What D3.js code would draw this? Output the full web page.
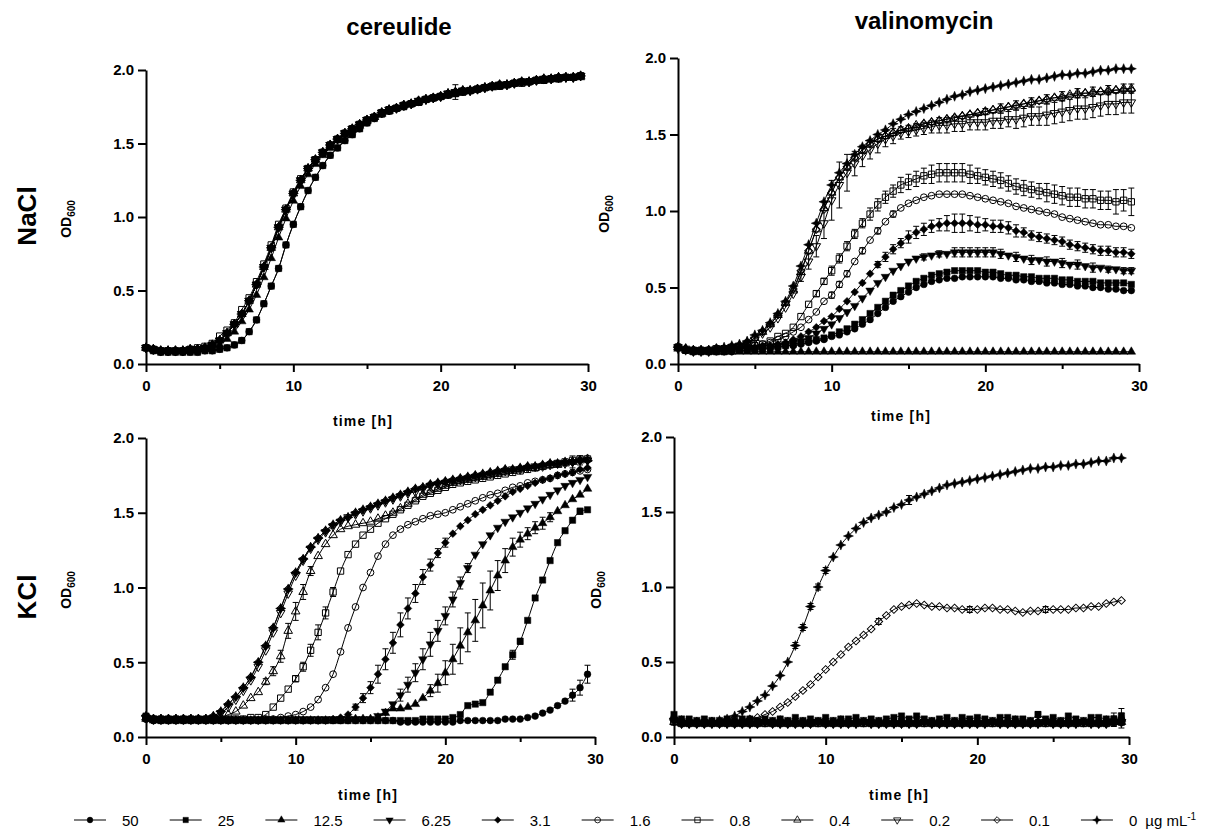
<!DOCTYPE html>
<html>
<head>
<meta charset="utf-8">
<script src="https://cdnjs.cloudflare.com/ajax/libs/d3/7.8.5/d3.min.js"></script>
<style>
  html, body { margin: 0; padding: 0; background: #fff; }
  svg { display: block; }
</style>
</head>
<body>
<svg id="chart" width="1214" height="830"></svg>
<script>
'use strict';

// sampling times in hours (one reading every 30 min)
var times = [0,0.5,1,1.5,2,2.5,3,3.5,4,4.5,
  5,5.5,6,6.5,7,7.5,8,8.5,9,9.5,
  10,10.5,11,11.5,12,12.5,13,13.5,14,14.5,
  15,15.5,16,16.5,17,17.5,18,18.5,19,19.5,
  20,20.5,21,21.5,22,22.5,23,23.5,24,24.5,
  25,25.5,26,26.5,27,27.5,28,28.5,29,29.5];

var concentrations = ['50', '25', '12.5', '6.25', '3.1', '1.6', '0.8', '0.4', '0.2', '0.1', '0'];
var markerShapes = ['circle', 'square', 'triangle', 'triangleDown', 'diamond',
  'circle', 'square', 'triangle', 'triangleDown', 'diamond', 'star'];
var markerOpen = [false, false, false, false, false, true, true, true, true, true, false];

var xTicks = [0, 10, 20, 30];
var xTickLabels = ['0', '10', '20', '30'];
var xMinorTicks = [5, 15, 25];
var yTicks = [0, 0.5, 1, 1.5, 2];
var yTickLabels = ['0.0', '0.5', '1.0', '1.5', '2.0'];

// ---- NaCl + cereulide ----
var naclCerFast = [0.11,0.10,0.09,0.09,0.09,0.09,0.10,0.10,0.11,0.13,
  0.16,0.21,0.27,0.34,0.43,0.54,0.66,0.79,0.93,1.05,
  1.16,1.25,1.33,1.39,1.44,1.49,1.53,1.57,1.60,1.63,
  1.66,1.68,1.71,1.73,1.74,1.76,1.77,1.79,1.80,1.81,
  1.82,1.84,1.85,1.86,1.86,1.87,1.88,1.89,1.90,1.90,
  1.91,1.92,1.92,1.93,1.94,1.94,1.95,1.95,1.95,1.96];
var naclCer08 = [0.11,0.10,0.09,0.09,0.09,0.09,0.10,0.11,0.12,0.14,
  0.19,0.23,0.28,0.37,0.45,0.56,0.68,0.81,0.95,1.06,
  1.17,1.26,1.33,1.39,1.44,1.49,1.53,1.57,1.60,1.63,
  1.66,1.68,1.71,1.73,1.74,1.76,1.77,1.78,1.80,1.81,
  1.82,1.83,1.84,1.85,1.86,1.87,1.88,1.89,1.89,1.90,
  1.91,1.91,1.92,1.93,1.93,1.94,1.94,1.95,1.95,1.96];
var naclCer125 = [0.11,0.10,0.09,0.09,0.09,0.09,0.09,0.10,0.10,0.11,
  0.13,0.17,0.22,0.29,0.37,0.47,0.59,0.72,0.86,0.99,
  1.11,1.21,1.29,1.36,1.42,1.47,1.52,1.56,1.59,1.62,
  1.65,1.68,1.70,1.72,1.74,1.76,1.77,1.78,1.80,1.81,
  1.82,1.83,1.84,1.85,1.86,1.87,1.88,1.88,1.89,1.90,
  1.91,1.91,1.92,1.93,1.93,1.94,1.94,1.95,1.95,1.95];
var naclCer25 = [0.11,0.09,0.08,0.08,0.08,0.08,0.08,0.08,0.09,0.09,
  0.10,0.11,0.13,0.16,0.22,0.30,0.41,0.53,0.65,0.81,
  0.95,1.07,1.18,1.27,1.35,1.42,1.47,1.52,1.56,1.60,
  1.64,1.67,1.70,1.72,1.74,1.75,1.77,1.78,1.80,1.81,
  1.82,1.83,1.84,1.85,1.86,1.87,1.88,1.89,1.89,1.90,
  1.91,1.92,1.92,1.93,1.93,1.94,1.94,1.95,1.95,1.96];
var naclCerErr02 = [[21, 0.05]];

// ---- NaCl + valinomycin ----
var naclVal0 = [0.11,0.10,0.09,0.09,0.09,0.10,0.11,0.12,0.13,0.15,
  0.19,0.22,0.27,0.33,0.41,0.51,0.64,0.78,0.92,1.06,
  1.17,1.25,1.31,1.37,1.42,1.46,1.50,1.53,1.57,1.60,
  1.63,1.65,1.67,1.69,1.71,1.73,1.75,1.76,1.78,1.79,
  1.80,1.81,1.82,1.83,1.84,1.85,1.86,1.86,1.87,1.88,
  1.89,1.89,1.90,1.90,1.91,1.92,1.92,1.93,1.93,1.93];
var naclVal01 = [0.11,0.10,0.09,0.09,0.09,0.10,0.10,0.11,0.12,0.14,
  0.17,0.21,0.26,0.32,0.40,0.49,0.61,0.74,0.88,1.01,
  1.12,1.22,1.29,1.35,1.40,1.44,1.47,1.49,1.51,1.53,
  1.54,1.55,1.57,1.58,1.59,1.60,1.61,1.62,1.63,1.64,
  1.65,1.66,1.67,1.68,1.69,1.70,1.71,1.72,1.73,1.74,
  1.74,1.75,1.76,1.77,1.77,1.78,1.78,1.79,1.79,1.79];
var naclVal04 = [0.11,0.10,0.09,0.09,0.09,0.10,0.10,0.11,0.12,0.14,
  0.17,0.21,0.26,0.32,0.40,0.48,0.60,0.74,0.88,1.02,
  1.12,1.22,1.29,1.35,1.40,1.44,1.47,1.49,1.51,1.53,
  1.54,1.56,1.57,1.58,1.59,1.60,1.61,1.62,1.63,1.64,
  1.65,1.66,1.67,1.68,1.69,1.70,1.71,1.72,1.73,1.74,
  1.75,1.76,1.77,1.77,1.78,1.78,1.79,1.79,1.80,1.80];
var naclVal02 = [0.11,0.10,0.09,0.09,0.09,0.10,0.10,0.11,0.12,0.13,
  0.16,0.20,0.24,0.30,0.37,0.46,0.57,0.67,0.77,0.92,
  1.07,1.17,1.25,1.31,1.36,1.40,1.44,1.47,1.49,1.51,
  1.52,1.53,1.54,1.55,1.56,1.56,1.57,1.57,1.58,1.58,
  1.58,1.59,1.59,1.60,1.60,1.61,1.62,1.62,1.63,1.64,
  1.65,1.66,1.67,1.67,1.68,1.69,1.70,1.70,1.71,1.71];
var naclVal08 = [0.11,0.09,0.09,0.09,0.09,0.10,0.10,0.11,0.11,0.12,
  0.12,0.13,0.15,0.18,0.20,0.24,0.31,0.39,0.46,0.54,
  0.61,0.69,0.77,0.85,0.92,0.98,1.04,1.09,1.13,1.17,
  1.19,1.21,1.23,1.24,1.25,1.25,1.25,1.25,1.24,1.23,
  1.22,1.21,1.20,1.18,1.16,1.15,1.14,1.13,1.12,1.11,
  1.10,1.09,1.09,1.08,1.08,1.07,1.07,1.06,1.07,1.06];
var naclVal16 = [0.11,0.09,0.09,0.09,0.09,0.09,0.10,0.10,0.11,0.11,
  0.12,0.13,0.14,0.16,0.18,0.21,0.24,0.29,0.34,0.41,
  0.45,0.52,0.59,0.67,0.74,0.81,0.87,0.93,0.98,1.02,
  1.05,1.07,1.09,1.10,1.11,1.11,1.11,1.11,1.10,1.09,
  1.08,1.07,1.06,1.05,1.03,1.02,1.01,1.00,0.99,0.98,
  0.96,0.95,0.94,0.93,0.92,0.91,0.91,0.90,0.90,0.89];
var naclVal31 = [0.11,0.09,0.09,0.09,0.09,0.09,0.09,0.10,0.10,0.11,
  0.11,0.12,0.12,0.13,0.14,0.16,0.18,0.21,0.24,0.28,
  0.31,0.36,0.41,0.47,0.53,0.59,0.65,0.70,0.75,0.79,
  0.83,0.86,0.88,0.90,0.91,0.92,0.92,0.92,0.92,0.91,
  0.91,0.90,0.90,0.89,0.87,0.86,0.84,0.83,0.82,0.81,
  0.80,0.78,0.77,0.76,0.75,0.74,0.74,0.73,0.73,0.72];
var naclVal625 = [0.10,0.09,0.08,0.08,0.08,0.09,0.09,0.09,0.10,0.10,
  0.10,0.11,0.11,0.12,0.13,0.14,0.15,0.17,0.20,0.23,
  0.26,0.30,0.34,0.38,0.43,0.48,0.53,0.57,0.61,0.64,
  0.67,0.69,0.70,0.71,0.72,0.72,0.73,0.73,0.73,0.73,
  0.73,0.73,0.72,0.71,0.70,0.69,0.68,0.68,0.67,0.67,
  0.66,0.65,0.65,0.64,0.63,0.63,0.62,0.62,0.61,0.61];
var naclVal125 = [0.10,0.09,0.08,0.08,0.08,0.08,0.08,0.08,0.08,0.08,
  0.08,0.08,0.08,0.08,0.08,0.08,0.08,0.08,0.08,0.08,
  0.08,0.08,0.08,0.08,0.08,0.08,0.08,0.08,0.08,0.08,
  0.08,0.08,0.08,0.08,0.08,0.08,0.08,0.08,0.08,0.08,
  0.08,0.08,0.08,0.08,0.08,0.08,0.08,0.08,0.08,0.08,
  0.08,0.08,0.08,0.08,0.08,0.08,0.08,0.08,0.08,0.08];
var naclVal25 = [0.11,0.09,0.08,0.08,0.08,0.08,0.08,0.09,0.09,0.09,
  0.10,0.10,0.11,0.11,0.12,0.13,0.14,0.15,0.16,0.17,
  0.19,0.21,0.23,0.26,0.29,0.33,0.37,0.41,0.45,0.48,
  0.51,0.54,0.56,0.58,0.59,0.60,0.61,0.61,0.61,0.61,
  0.60,0.60,0.59,0.58,0.58,0.57,0.57,0.56,0.56,0.56,
  0.55,0.55,0.54,0.54,0.54,0.53,0.53,0.53,0.53,0.52];
var naclVal50 = [0.11,0.09,0.08,0.08,0.08,0.08,0.08,0.08,0.09,0.09,
  0.09,0.10,0.10,0.11,0.12,0.12,0.13,0.14,0.15,0.16,
  0.18,0.19,0.21,0.23,0.26,0.29,0.33,0.37,0.41,0.44,
  0.47,0.50,0.52,0.54,0.55,0.56,0.56,0.57,0.57,0.57,
  0.57,0.57,0.56,0.56,0.55,0.55,0.54,0.54,0.53,0.53,
  0.52,0.52,0.51,0.51,0.50,0.50,0.49,0.49,0.48,0.48];
// error bars: [time, SD]
var naclValErr08 = [[9,0.02],[9.5,0.02],[10,0.03],[10.5,0.03],[11,0.03],[11.5,0.03],[12,0.03],[12.5,0.04],
  [13,0.04],[13.5,0.04],[14,0.04],[14.5,0.05],[15,0.05],[15.5,0.05],[16,0.05],[16.5,0.06],[17,0.06],
  [17.5,0.06],[18,0.06],[18.5,0.06],[19,0.06],[19.5,0.05],[20,0.05],[20.5,0.05],[21,0.05],[21.5,0.05],
  [22,0.05],[22.5,0.05],[23,0.05],[23.5,0.05],[24,0.06],[24.5,0.06],[25,0.06],[25.5,0.06],[26,0.06],
  [26.5,0.06],[27,0.06],[27.5,0.06],[28,0.06],[28.5,0.08],[29,0.07],[29.5,0.09]];
var naclValErr02 = [[8,0.03],[8.5,0.05],[9,0.07],[9.5,0.10],[10,0.13],[10.5,0.15],[11,0.12],[11.5,0.08],
  [12,0.07],[12.5,0.06],[13,0.06],[13.5,0.05],[14,0.05],[14.5,0.04],[15,0.04],[15.5,0.04],[16,0.04],
  [16.5,0.04],[17,0.05],[17.5,0.05],[18,0.05],[18.5,0.05],[19,0.05],[19.5,0.05],[20,0.05],[20.5,0.05],
  [21,0.05],[21.5,0.05],[22,0.06],[22.5,0.06],[23,0.06],[23.5,0.06],[24,0.07],[24.5,0.07],[25,0.07],
  [25.5,0.07],[26,0.07],[26.5,0.07],[27,0.07],[27.5,0.07],[28,0.07],[28.5,0.07],[29,0.07],[29.5,0.07]];
var naclValErr31 = [[13,0.02],[13.5,0.03],[14,0.03],[14.5,0.03],[15,0.04],[15.5,0.04],[16,0.04],[16.5,0.04],
  [17,0.04],[17.5,0.05],[18,0.06],[18.5,0.06],[19,0.05],[19.5,0.05],[20,0.04],[20.5,0.04],[21,0.04],
  [21.5,0.04],[22,0.04],[22.5,0.03],[23,0.03],[23.5,0.03],[24,0.03],[24.5,0.03],[25,0.03],[25.5,0.03],
  [26,0.03],[26.5,0.03],[27,0.03],[27.5,0.03],[28,0.03],[28.5,0.03],[29,0.03],[29.5,0.03]];
var naclValErr625 = [[16,0.02],[17,0.02],[18,0.03],[18.5,0.03],[19,0.03],[19.5,0.03],[20,0.03],[20.5,0.03],
  [21,0.03],[22,0.03],[23,0.03],[24,0.03],[25,0.03],[26,0.03],[27,0.03],[28,0.02],[29,0.02],[29.5,0.02]];
var naclValErr16 = [[10,0.02],[10.5,0.02],[11,0.02],[12,0.02],[13,0.02],[14,0.02]];
var naclValErr04 = [[20,0.02],[21,0.03],[22,0.03],[23,0.03],[24,0.03],[25,0.03],[26,0.03],[27,0.03],
  [28,0.03],[29,0.03],[29.5,0.03]];

// ---- KCl + cereulide ----
var kclCerFast = [0.14,0.12,0.12,0.12,0.12,0.12,0.12,0.12,0.12,0.14,
  0.17,0.22,0.27,0.33,0.40,0.50,0.61,0.73,0.86,0.99,
  1.10,1.19,1.27,1.33,1.38,1.42,1.45,1.47,1.50,1.52,
  1.54,1.56,1.58,1.60,1.62,1.64,1.66,1.67,1.69,1.70,
  1.71,1.72,1.73,1.74,1.75,1.76,1.77,1.78,1.79,1.79,
  1.80,1.81,1.81,1.82,1.83,1.83,1.84,1.84,1.85,1.85];
var kclCer02 = [0.13,0.12,0.12,0.12,0.12,0.12,0.12,0.12,0.12,0.13,
  0.16,0.20,0.25,0.31,0.38,0.47,0.58,0.70,0.83,0.96,
  1.08,1.18,1.26,1.32,1.37,1.41,1.44,1.47,1.49,1.51,
  1.53,1.55,1.57,1.59,1.61,1.63,1.64,1.66,1.68,1.69,
  1.70,1.71,1.72,1.73,1.74,1.75,1.76,1.77,1.78,1.79,
  1.79,1.80,1.81,1.81,1.82,1.83,1.83,1.84,1.85,1.85];
var kclCer04 = [0.13,0.12,0.12,0.12,0.12,0.12,0.12,0.12,0.12,0.12,
  0.13,0.15,0.17,0.21,0.26,0.30,0.37,0.44,0.54,0.71,
  0.84,0.97,1.11,1.21,1.29,1.35,1.39,1.41,1.42,1.43,
  1.44,1.46,1.48,1.50,1.53,1.56,1.59,1.62,1.64,1.66,
  1.68,1.70,1.71,1.72,1.73,1.74,1.75,1.76,1.77,1.78,
  1.79,1.80,1.80,1.81,1.82,1.82,1.83,1.84,1.85,1.86];
var kclCer08 = [0.13,0.12,0.12,0.12,0.12,0.12,0.12,0.12,0.12,0.12,
  0.12,0.12,0.12,0.12,0.13,0.13,0.15,0.20,0.26,0.32,
  0.39,0.47,0.58,0.70,0.83,0.97,1.11,1.22,1.29,1.35,
  1.39,1.43,1.46,1.49,1.52,1.55,1.58,1.61,1.63,1.65,
  1.67,1.69,1.70,1.71,1.72,1.73,1.74,1.75,1.76,1.77,
  1.78,1.79,1.80,1.81,1.82,1.83,1.84,1.85,1.86,1.86];
var kclCer16 = [0.12,0.11,0.11,0.11,0.11,0.11,0.11,0.11,0.11,0.11,
  0.11,0.11,0.11,0.11,0.11,0.11,0.12,0.12,0.13,0.14,
  0.15,0.17,0.20,0.25,0.33,0.42,0.57,0.73,0.87,1.00,
  1.10,1.21,1.29,1.35,1.39,1.42,1.44,1.46,1.48,1.49,
  1.50,1.52,1.54,1.56,1.58,1.60,1.62,1.63,1.65,1.67,
  1.68,1.70,1.71,1.72,1.73,1.75,1.76,1.77,1.78,1.79];
var kclCer31 = [0.12,0.11,0.11,0.11,0.11,0.11,0.11,0.11,0.11,0.11,
  0.11,0.11,0.11,0.11,0.11,0.11,0.11,0.11,0.11,0.11,
  0.11,0.11,0.11,0.11,0.11,0.12,0.13,0.15,0.20,0.26,
  0.33,0.42,0.52,0.63,0.75,0.86,0.96,1.07,1.15,1.23,
  1.30,1.36,1.41,1.45,1.49,1.52,1.55,1.58,1.61,1.64,
  1.66,1.68,1.70,1.72,1.73,1.75,1.76,1.77,1.79,1.80];
var kclCer625 = [0.13,0.12,0.12,0.12,0.12,0.12,0.12,0.12,0.12,0.12,
  0.12,0.12,0.12,0.12,0.12,0.12,0.12,0.12,0.12,0.12,
  0.12,0.12,0.12,0.12,0.12,0.12,0.12,0.12,0.12,0.12,
  0.12,0.14,0.17,0.22,0.28,0.35,0.43,0.52,0.62,0.71,
  0.81,0.92,1.03,1.13,1.22,1.29,1.35,1.40,1.44,1.47,
  1.50,1.53,1.56,1.59,1.62,1.65,1.68,1.70,1.72,1.74];
var kclCer125 = [0.12,0.11,0.11,0.11,0.11,0.11,0.11,0.11,0.11,0.11,
  0.11,0.11,0.11,0.11,0.11,0.11,0.11,0.11,0.11,0.11,
  0.11,0.11,0.11,0.11,0.11,0.11,0.11,0.12,0.12,0.12,
  0.12,0.13,0.16,0.19,0.19,0.20,0.22,0.26,0.31,0.36,
  0.43,0.52,0.61,0.70,0.78,0.88,0.98,1.08,1.18,1.27,
  1.32,1.36,1.40,1.43,1.47,1.51,1.55,1.59,1.62,1.66];
var kclCer25 = [0.14,0.12,0.11,0.11,0.11,0.11,0.11,0.11,0.11,0.11,
  0.11,0.11,0.11,0.11,0.11,0.11,0.11,0.11,0.11,0.11,
  0.11,0.11,0.11,0.11,0.11,0.11,0.11,0.11,0.11,0.11,
  0.11,0.11,0.11,0.11,0.11,0.11,0.11,0.12,0.12,0.12,
  0.12,0.13,0.15,0.21,0.22,0.23,0.30,0.38,0.47,0.55,
  0.64,0.78,0.93,1.05,1.18,1.30,1.38,1.45,1.51,1.52];
var kclCer50 = [0.12,0.11,0.11,0.11,0.11,0.11,0.11,0.11,0.11,0.11,
  0.11,0.11,0.11,0.11,0.11,0.11,0.11,0.11,0.11,0.11,
  0.11,0.11,0.11,0.11,0.11,0.11,0.11,0.11,0.11,0.11,
  0.11,0.11,0.11,0.11,0.10,0.10,0.10,0.10,0.10,0.10,
  0.10,0.10,0.11,0.11,0.11,0.11,0.11,0.11,0.12,0.12,
  0.12,0.13,0.14,0.16,0.18,0.21,0.24,0.28,0.33,0.42];
var kclCerErr04 = [[8,0.02],[8.5,0.03],[9,0.04],[9.5,0.05],[10,0.06],[10.5,0.05],[11,0.03]];
var kclCerErr08 = [[10,0.02],[10.5,0.03],[11,0.04],[11.5,0.05],[12,0.04],[12.5,0.03]];
var kclCerErr31 = [[14,0.02],[14.5,0.03],[15,0.04],[15.5,0.06],[16,0.07],[16.5,0.07],[17,0.08],
  [17.5,0.07],[18,0.06],[18.5,0.05],[19,0.04],[19.5,0.03],[20,0.03]];
var kclCerErr625 = [[17,0.04],[17.5,0.05],[18,0.06],[18.5,0.07],[19,0.08],[19.5,0.07],[20,0.06],
  [20.5,0.05],[21,0.04],[21.5,0.03]];
var kclCerErr125 = [[19,0.04],[19.5,0.06],[20,0.08],[20.5,0.10],[21,0.12],[21.5,0.13],[22,0.14],
  [22.5,0.15],[23,0.13],[23.5,0.10],[24,0.08],[24.5,0.06],[25,0.05],[25.5,0.04],[26,0.04],[26.5,0.04],[27,0.03]];
var kclCerErr25 = [[24.5,0.03],[25,0.02],[29,0.02]];
var kclCerErr50 = [[28.5,0.04],[29,0.05],[29.5,0.06]];
var kclCerErr02 = [[28.5,0.04],[29,0.03]];

// ---- KCl + valinomycin ----
var kclVal0 = [0.12,0.11,0.10,0.10,0.10,0.10,0.11,0.12,0.14,0.17,
  0.20,0.24,0.28,0.34,0.41,0.50,0.61,0.73,0.87,1.00,
  1.11,1.20,1.28,1.34,1.39,1.43,1.46,1.48,1.50,1.53,
  1.55,1.58,1.60,1.62,1.64,1.66,1.68,1.69,1.70,1.71,
  1.72,1.73,1.74,1.75,1.76,1.77,1.78,1.79,1.79,1.80,
  1.80,1.81,1.81,1.82,1.82,1.83,1.84,1.84,1.86,1.86];
var kclVal01 = [0.11,0.10,0.10,0.10,0.10,0.10,0.10,0.10,0.10,0.11,
  0.12,0.13,0.15,0.17,0.20,0.23,0.27,0.31,0.35,0.40,
  0.45,0.50,0.55,0.60,0.64,0.68,0.72,0.77,0.81,0.85,
  0.87,0.88,0.89,0.88,0.87,0.87,0.86,0.86,0.85,0.85,
  0.85,0.86,0.86,0.85,0.85,0.84,0.83,0.84,0.84,0.85,
  0.85,0.85,0.85,0.86,0.86,0.87,0.87,0.89,0.90,0.91];
var kclVal25 = [0.15,0.12,0.12,0.11,0.12,0.11,0.11,0.12,0.11,0.12,
  0.12,0.11,0.12,0.11,0.12,0.11,0.13,0.11,0.12,0.11,
  0.13,0.11,0.12,0.12,0.13,0.11,0.12,0.11,0.12,0.13,
  0.14,0.12,0.14,0.12,0.11,0.12,0.13,0.11,0.13,0.12,
  0.13,0.12,0.11,0.13,0.13,0.12,0.12,0.11,0.15,0.12,
  0.13,0.11,0.14,0.12,0.11,0.13,0.13,0.12,0.12,0.14];
var kclValFlatA = [0.13,0.10,0.10,0.10,0.10,0.10,0.10,0.10,0.10,0.10,
  0.10,0.10,0.10,0.10,0.11,0.10,0.10,0.10,0.10,0.10,
  0.10,0.10,0.11,0.10,0.10,0.10,0.10,0.10,0.10,0.10,
  0.11,0.10,0.10,0.10,0.10,0.10,0.10,0.10,0.11,0.10,
  0.10,0.10,0.10,0.10,0.10,0.11,0.10,0.10,0.10,0.10,
  0.10,0.10,0.11,0.10,0.10,0.10,0.10,0.11,0.11,0.12];
var kclValFlatB = [0.11,0.09,0.09,0.09,0.09,0.09,0.09,0.09,0.09,0.09,
  0.09,0.09,0.10,0.09,0.09,0.09,0.09,0.09,0.09,0.10,
  0.09,0.09,0.09,0.09,0.09,0.10,0.09,0.09,0.09,0.09,
  0.09,0.09,0.09,0.10,0.09,0.09,0.09,0.09,0.09,0.09,
  0.09,0.09,0.10,0.09,0.09,0.09,0.09,0.09,0.09,0.10,
  0.09,0.09,0.09,0.09,0.10,0.09,0.09,0.09,0.10,0.10];
var kclValFlatC = [0.10,0.09,0.09,0.09,0.09,0.09,0.09,0.09,0.09,0.09,
  0.09,0.09,0.09,0.09,0.09,0.09,0.09,0.09,0.09,0.09,
  0.09,0.09,0.09,0.09,0.09,0.09,0.09,0.09,0.09,0.09,
  0.09,0.09,0.09,0.09,0.09,0.09,0.09,0.09,0.09,0.09,
  0.09,0.09,0.09,0.09,0.09,0.09,0.09,0.09,0.09,0.09,
  0.09,0.09,0.09,0.09,0.09,0.09,0.09,0.09,0.10,0.10];
var kclValErr0 = [[8,0.02],[8.5,0.02],[9,0.02],[9.5,0.02],[10,0.02],[15.5,0.03]];
var kclValErr01 = [[13.5,0.02],[19.5,0.02],[24.5,0.02]];
var kclValErr25 = [[24,0.02],[29,0.04],[29.5,0.05]];
var kclValErrFlat = [[29,0.03],[29.5,0.04]];

// panels: one data array per concentration, same order as `concentrations`
var panels = [
  { key: 'tl', title: 'cereulide', salt: 'NaCl',
    series: [naclCer25, naclCer25, naclCer125, naclCerFast, naclCerFast, naclCerFast,
      naclCer08, naclCerFast, naclCerFast, naclCerFast, naclCerFast],
    errors: { '0.2': naclCerErr02 } },
  { key: 'tr', title: 'valinomycin',
    series: [naclVal50, naclVal25, naclVal125, naclVal625, naclVal31, naclVal16,
      naclVal08, naclVal04, naclVal02, naclVal01, naclVal0],
    errors: { '0.8': naclValErr08, '0.2': naclValErr02, '3.1': naclValErr31, '6.25': naclValErr625,
      '1.6': naclValErr16, '0.4': naclValErr04 } },
  { key: 'bl', salt: 'KCl',
    series: [kclCer50, kclCer25, kclCer125, kclCer625, kclCer31, kclCer16,
      kclCer08, kclCer04, kclCer02, kclCerFast, kclCerFast],
    errors: { '50': kclCerErr50, '25': kclCerErr25, '12.5': kclCerErr125, '6.25': kclCerErr625,
      '3.1': kclCerErr31, '0.8': kclCerErr08, '0.4': kclCerErr04, '0.2': kclCerErr02 } },
  { key: 'br',
    series: [kclValFlatA, kclVal25, kclValFlatA, kclValFlatB, kclValFlatB, kclValFlatC,
      kclValFlatC, kclValFlatC, kclValFlatB, kclVal01, kclVal0],
    errors: { '25': kclValErr25, '50': kclValErrFlat, '0.2': kclValErrFlat, '0.1': kclValErr01, '0': kclValErr0 } }
];

// plot boxes in px
var layout = {
  tl: { left: 146, right: 588, top: 70, bottom: 364, titleX: 399, titleY: 35, odX: 66, odY: 219, timeX: 363, timeY: 426, saltY: 216 },
  tr: { left: 678, right: 1139, top: 58, bottom: 364, titleX: 924, titleY: 29, odX: 604, odY: 214, timeX: 901, timeY: 421 },
  bl: { left: 146, right: 595, top: 438, bottom: 737, odX: 66, odY: 590, timeX: 368, timeY: 800, saltY: 597 },
  br: { left: 674, right: 1129, top: 437, bottom: 737, odX: 596, odY: 590, timeX: 899, timeY: 800 }
};

var font = '"Liberation Sans", Arial, Helvetica, sans-serif';
var svg = d3.select('#chart');

// four-pointed star used for the 0 µg/mL control
var star4 = {
  draw: function(ctx, size) {
    var r = Math.sqrt(size) * 0.8, ri = r * 0.42;
    for (var k = 0; k < 8; k++) {
      var a = k * Math.PI / 4 - Math.PI / 2;
      var rr = k % 2 ? ri : r;
      if (k === 0) ctx.moveTo(rr * Math.cos(a), rr * Math.sin(a));
      else ctx.lineTo(rr * Math.cos(a), rr * Math.sin(a));
    }
    ctx.closePath();
  }
};

var shapeDefs = {
  circle: { type: d3.symbolCircle, size: 36, rot: 0 },
  square: { type: d3.symbolSquare, size: 40, rot: 0 },
  triangle: { type: d3.symbolTriangle, size: 32, rot: 0 },
  triangleDown: { type: d3.symbolTriangle, size: 32, rot: 180 },
  diamond: { type: d3.symbolSquare, size: 30, rot: 45 },
  star: { type: star4, size: 40, rot: 0 }
};

function drawMarker(sel, i) {
  var def = shapeDefs[markerShapes[i]];
  sel.attr('d', d3.symbol().type(def.type).size(def.size)())
    .attr('fill', markerOpen[i] ? 'none' : '#000')
    .attr('stroke', '#000')
    .attr('stroke-width', markerOpen[i] ? 1 : 0.5);
  return def.rot;
}

function styleAxis(a) {
  a.selectAll('path, line').attr('stroke', '#000').attr('stroke-width', 2);
  a.selectAll('text').attr('font-family', font).attr('font-size', 15)
    .attr('font-weight', 'bold').attr('fill', '#000');
}

panels.forEach(function(p) {
  var box = layout[p.key];
  var x = d3.scaleLinear().domain([0, 30]).range([box.left, box.right]);
  var y = d3.scaleLinear().domain([0, 2]).range([box.bottom, box.top]);
  var g = svg.append('g');

  var xAxis = g.append('g').attr('transform', 'translate(0,' + box.bottom + ')')
    .call(d3.axisBottom(x).tickValues(xTicks)
      .tickFormat(function(d, i) { return xTickLabels[i]; })
      .tickSize(8).tickSizeOuter(0).tickPadding(8));
  var xMinor = g.append('g').attr('transform', 'translate(0,' + box.bottom + ')')
    .call(d3.axisBottom(x).tickValues(xMinorTicks).tickFormat('').tickSize(5).tickSizeOuter(0));
  xMinor.select('.domain').remove();
  var yAxis = g.append('g').attr('transform', 'translate(' + box.left + ',0)')
    .call(d3.axisLeft(y).tickValues(yTicks)
      .tickFormat(function(d, i) { return yTickLabels[i]; })
      .tickSize(8).tickSizeOuter(0).tickPadding(4));
  [xAxis, xMinor, yAxis].forEach(styleAxis);

  // labels
  if (p.title) {
    g.append('text').attr('x', box.titleX).attr('y', box.titleY)
      .attr('text-anchor', 'middle').attr('font-family', font)
      .attr('font-size', 24).attr('font-weight', 'bold').text(p.title);
  }
  if (p.salt) {
    g.append('text').attr('transform', 'translate(36,' + box.saltY + ') rotate(-90)')
      .attr('text-anchor', 'middle').attr('font-family', font)
      .attr('font-size', 26).attr('font-weight', 'bold').text(p.salt);
  }
  var od = g.append('text').attr('transform', 'translate(' + (box.odX + 5) + ',' + box.odY + ') rotate(-90)')
    .attr('text-anchor', 'middle').attr('font-family', font).attr('font-weight', 'bold');
  od.append('tspan').attr('font-size', 14).text('OD');
  od.append('tspan').attr('font-size', 10).attr('dy', 4).text('600');

  g.append('text').attr('x', box.timeX).attr('y', box.timeY)
    .attr('text-anchor', 'middle').attr('font-family', font)
    .attr('font-size', 14).attr('font-weight', 'bold').attr('letter-spacing', 1.2)
    .text('time [h]');

  var line = d3.line()
    .x(function(d) { return x(d[0]); })
    .y(function(d) { return y(d[1]); })
    .curve(d3.curveMonotoneX);

  p.series.forEach(function(vals, i) {
    var pts = times.map(function(t, j) { return [t, vals[j]]; });
    var sg = g.append('g');
    var errs = p.errors[concentrations[i]] || [];
    errs.forEach(function(e) {
      var v = vals[times.indexOf(e[0])];
      var cx = x(e[0]), y1 = y(v + e[1]), y2 = y(v - e[1]);
      var path = d3.path();
      path.moveTo(cx, y1); path.lineTo(cx, y2);
      path.moveTo(cx - 3, y1); path.lineTo(cx + 3, y1);
      path.moveTo(cx - 3, y2); path.lineTo(cx + 3, y2);
      sg.append('path').attr('d', path.toString()).attr('stroke', '#000')
        .attr('stroke-width', 1).attr('fill', 'none');
    });
    sg.append('path').datum(pts).attr('d', line).attr('fill', 'none')
      .attr('stroke', '#000').attr('stroke-width', 1);
    sg.selectAll('path.mk').data(pts).join('path').attr('class', 'mk')
      .each(function(d) {
        var rot = drawMarker(d3.select(this), i);
        d3.select(this).attr('transform', 'translate(' + x(d[0]) + ',' + y(d[1]) + ') rotate(' + rot + ')');
      });
  });
});

// legend
var legend = svg.append('g');
var lx = 74, ly = 820;
concentrations.forEach(function(c, i) {
  var item = legend.append('g').attr('transform', 'translate(' + lx + ',' + ly + ')');
  item.append('line').attr('x1', 0).attr('x2', 32).attr('y1', 0).attr('y2', 0)
    .attr('stroke', '#000').attr('stroke-width', 1);
  var mk = item.append('path');
  var rot = drawMarker(mk, i);
  mk.attr('transform', 'translate(16,0) rotate(' + rot + ') scale(0.85)');
  var txt = item.append('text').attr('x', 48).attr('y', 5.5)
    .attr('font-family', font).attr('font-size', 15).text(c);
  if (i === concentrations.length - 1) {
    txt.append('tspan').attr('dx', 8).text('µg mL');
    txt.append('tspan').attr('font-size', 10).attr('dy', -6).text('-1');
  }
  lx += 48 + txt.node().getComputedTextLength() + 31;
});
</script>
</body>
</html>
